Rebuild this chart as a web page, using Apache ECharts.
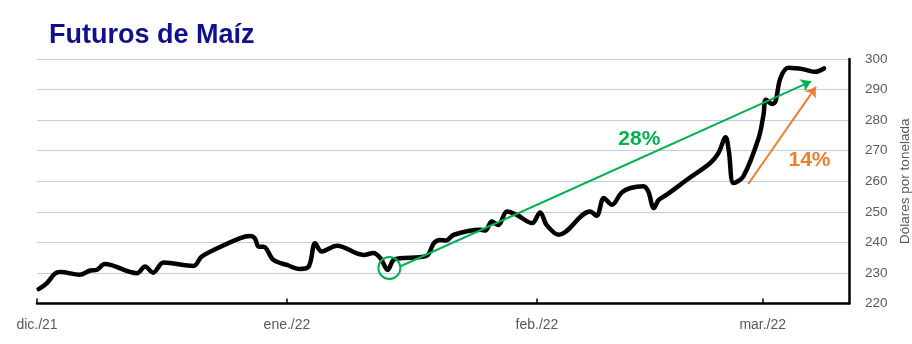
<!DOCTYPE html>
<html>
<head>
<meta charset="utf-8">
<script src="https://cdn.jsdelivr.net/npm/echarts@6/dist/echarts.min.js"></script>
<style>
html,body{margin:0;padding:0;background:#fff;overflow:hidden;}
#chart{width:912px;height:344px;}
</style>
</head>
<body>
<div id="chart"></div>
<script>
// Days counted from 1 Dec 2021 (x) and price in US$/t (y)
const dayOffsets = [0.2,1.2,2.2,2.9,5.3,6.6,7.4,8.4,12.4,13.4,14.4,15.7,19.4,20.4,21.9,25.2,26.4,27.0,27.5,28.1,29.3,31.0,32.6,33.7,34.5,35.3,37.2,40.5,41.7,42.6,43.5,44.2,45.0,48.3,49.2,50.0,50.7,51.7,55.0,55.6,56.4,57.2,58.3,59.5,61.4,62.4,63.2,64.7,68.6,69.4,70.3,71.3,72.5,73.6,75.2,75.8,76.5,77.1,78.1,80.6,83.5,84.5,85.4,85.8,86.4,87.6,89.5,90.1,90.4,91.2,91.6,92.2,93.2,95.1,96.5,97.6];
const prices = [224.7,226.6,229.7,230.3,229.4,230.8,231.0,232.9,229.9,232.1,230.1,233.4,232.3,235.3,237.5,241.4,242.1,241.4,238.6,238.6,234.3,232.6,231.3,232.1,239.7,237.0,238.9,235.9,236.5,234.8,231.0,234.3,234.8,235.6,239.7,240.8,240.6,242.5,244.1,243.9,246.8,245.7,250.1,249.0,246.3,249.8,245.7,242.5,250.1,248.7,254.5,252.3,256.3,257.8,258.4,256.7,251.2,253.9,255.6,260.5,266.0,269.2,274.4,269.8,259.4,261.6,274.2,281.8,286.7,285.3,286.2,293.8,297.1,296.6,295.8,296.9];

const monthTicks = [0, 31, 62, 90];
const monthLabels = ['dic./21', 'ene./22', 'feb./22', 'mar./22'];
const yMin = 220, yMax = 300, yStep = 10;

// annotations (data coordinates)
const greenArrow = [[45.0, 232.1], [96.0, 292.7]];
const orangeArrow = [[88.2, 259.1], [96.6, 290.9]];
const lowCircle = [43.7, 231.6];
const greenLabel = { text: '28%', at: [74.7, 273.6] };
const orangeLabel = { text: '14%', at: [95.8, 267.0] };

const GREEN = '#00B050', ORANGE = '#ED7D31';
const FONT = 'Liberation Sans, Arial, sans-serif';

const chart = echarts.init(document.getElementById('chart'), null, { renderer: 'canvas' });
const seriesData = dayOffsets.map((d, i) => [d, prices[i]]);

chart.setOption({
  animation: false,
  backgroundColor: '#ffffff',
  title: {
    text: 'Futuros de Maíz',
    left: 44, top: 17,
    textStyle: { fontFamily: FONT, fontSize: 27, fontWeight: 'bold', color: '#10108C' }
  },
  grid: { left: 37, right: 63, top: 59, bottom: 40.5, containLabel: false, outerBoundsMode: 'none' },
  xAxis: {
    type: 'value', min: 0, max: 100.7,
    axisLine: { show: true, onZero: false, lineStyle: { color: '#000', width: 2.5 } },
    axisTick: { show: true, inside: true, length: 5, customValues: monthTicks, lineStyle: { color: '#000', width: 1.5 } },
    axisLabel: {
      customValues: monthTicks, margin: 15,
      fontFamily: FONT, fontSize: 14, color: '#595959',
      formatter: v => monthLabels[monthTicks.indexOf(v)] || ''
    },
    splitLine: { show: false }
  },
  yAxis: {
    type: 'value', position: 'right', min: yMin, max: yMax, interval: yStep,
    name: 'Dólares por tonelada', nameLocation: 'middle', nameRotate: 90, nameGap: 49,
    nameTextStyle: { fontFamily: FONT, fontSize: 13.5, color: '#595959' },
    axisLine: { show: true, onZero: false, lineStyle: { color: '#000', width: 2.5 } },
    axisTick: { show: false },
    axisLabel: { margin: 16, fontFamily: FONT, fontSize: 13.5, color: '#595959' },
    splitLine: { show: true, lineStyle: { color: '#BECDE6', width: 1.2 } }
  },
  series: [{
    type: 'line',
    data: seriesData,
    smooth: 0.35,
    showSymbol: false,
    symbol: 'none',
    lineStyle: { color: '#000', width: 4.5, cap: 'round', join: 'round' },
    z: 3,
    markLine: {
      silent: true,
      symbol: ['none', 'arrow'],
      symbolSize: 10,
      label: { show: false },
      data: [
        [{ coord: greenArrow[0], lineStyle: { color: GREEN, width: 2, type: 'solid' } }, { coord: greenArrow[1] }],
        [{ coord: orangeArrow[0], lineStyle: { color: ORANGE, width: 2, type: 'solid' } }, { coord: orangeArrow[1] }]
      ]
    },
    markPoint: {
      silent: true,
      data: [
        { coord: lowCircle, symbol: 'circle', symbolSize: 22,
          itemStyle: { color: 'rgba(0,0,0,0)', borderColor: GREEN, borderWidth: 2 }, label: { show: false } },
        { coord: greenLabel.at, symbol: 'circle', symbolSize: 0,
          label: { show: true, position: 'inside', formatter: greenLabel.text, color: GREEN, fontFamily: FONT, fontSize: 21, fontWeight: 'bold' } },
        { coord: orangeLabel.at, symbol: 'circle', symbolSize: 0,
          label: { show: true, position: 'inside', formatter: orangeLabel.text, color: ORANGE, fontFamily: FONT, fontSize: 21, fontWeight: 'bold' } }
      ]
    }
  }]
});
</script>
</body>
</html>
